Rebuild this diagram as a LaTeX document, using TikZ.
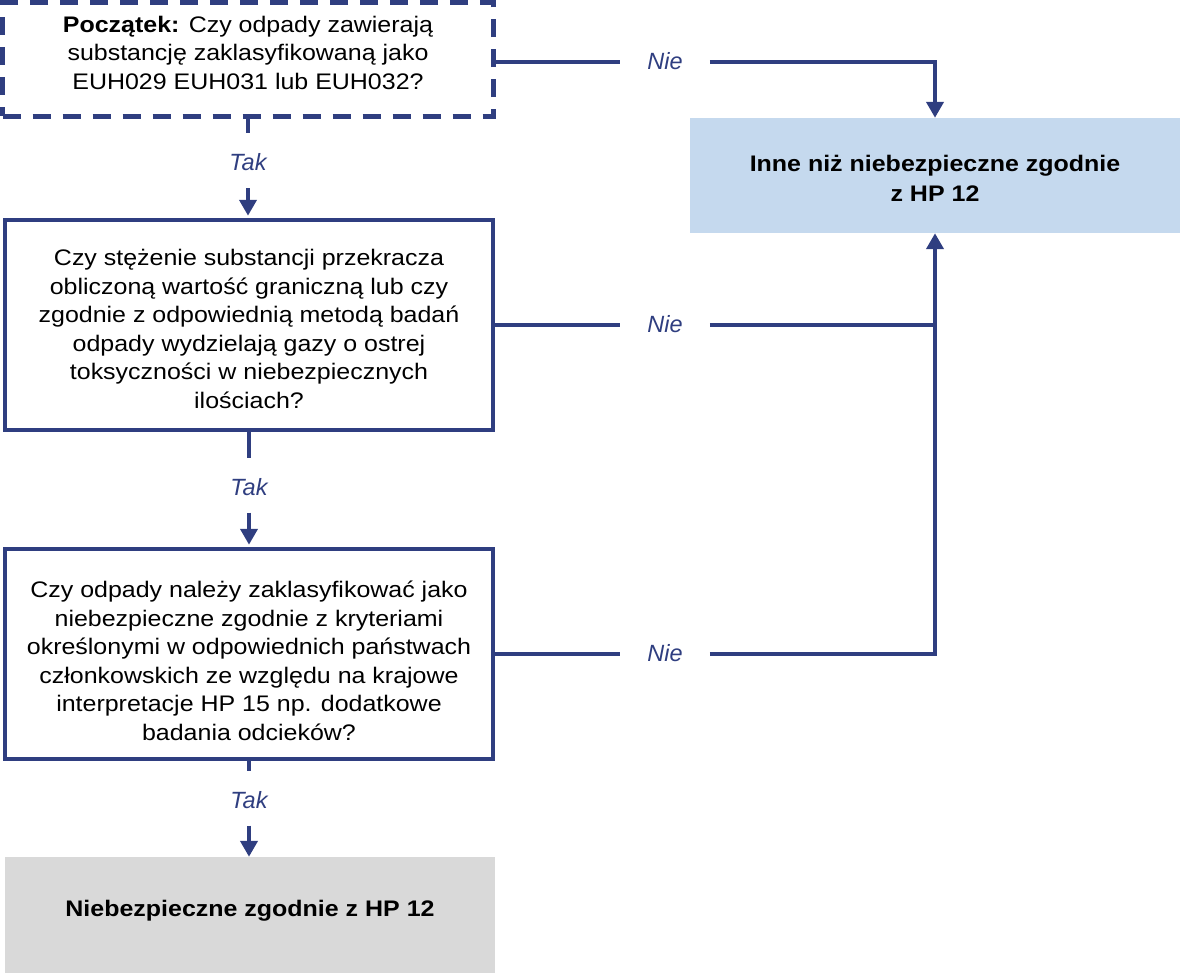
\documentclass[tikz,border=0pt]{standalone}
\usepackage{fontspec}
\setmainfont[FakeStretch=1.11]{Liberation Sans}
\newfontfamily\lblfont{Liberation Sans}
\usetikzlibrary{arrows.meta}
\definecolor{navy}{RGB}{47,62,128}
\definecolor{lightblue}{RGB}{197,217,238}
\definecolor{lightgray}{RGB}{217,217,217}
\newcommand\bxtxt[2]{\raisebox{#1}[0pt][0pt]{\begin{tabular}{@{}c@{}}#2\end{tabular}}}
\tikzset{
  qbox/.style={draw=navy, line width=4.5pt, fill=white, inner sep=0pt,
    font=\fontsize{22.5}{28.5}\selectfont},
  startbox/.style={qbox, line width=5pt, dash pattern=on 18pt off 12pt},
  endbox/.style={draw=none, inner sep=0pt,
    font=\fontsize{22.5}{30}\selectfont\bfseries},
  lbl/.style={text=navy, inner sep=0pt, text height=15pt, text depth=0pt,
    font=\lblfont\fontsize{23.5}{26}\selectfont\itshape},
  nielbl/.style={lbl, inner xsep=27pt},
  conn/.style={draw=navy, line width=4pt},
  arr/.style={conn, -{Triangle[width=17pt,length=16pt]}},
}
\begin{document}
\begin{tikzpicture}[x=1pt,y=-1pt]
\useasboundingbox (0,0) rectangle (1180,972);
% boxes
\node[startbox, minimum width=491pt, minimum height=113.5pt] (b1) at (248,59.25)
  {\bxtxt{-1pt}{\textbf{Początek:} Czy odpady zawierają\\substancję zaklasyfikowaną jako\\EUH029 EUH031 lub EUH032?}};
\node[qbox, minimum width=488pt, minimum height=210pt] (b2) at (249,325)
  {\bxtxt{-11.5pt}{Czy stężenie substancji przekracza\\obliczoną wartość graniczną lub czy\\zgodnie z odpowiednią metodą badań\\odpady wydzielają gazy o ostrej\\toksyczności w niebezpiecznych\\ilościach?}};
\node[qbox, minimum width=488pt, minimum height=210pt] (b3) at (249,654)
  {\bxtxt{-14.5pt}{Czy odpady należy zaklasyfikować jako\\niebezpieczne zgodnie z kryteriami\\określonymi w odpowiednich państwach\\członkowskich ze względu na krajowe\\interpretacje HP 15 np. dodatkowe\\badania odcieków?}};
\node[endbox, fill=lightgray, minimum width=490pt, minimum height=120pt] (b4) at (250,917)
  {\bxtxt{1.5pt}{Niebezpieczne zgodnie z HP 12}};
\node[endbox, fill=lightblue, minimum width=490pt, minimum height=115pt] (b5) at (935,175.5)
  {\bxtxt{-10.5pt}{Inne niż niebezpieczne zgodnie\\z HP 12}};
% labels
\node[lbl] (tak1) at (248,162.5) {Tak};
\node[lbl] (tak2) at (249,488) {Tak};
\node[lbl] (tak3) at (249,801) {Tak};
\node[nielbl] (nie1) at (665,62) {Nie};
\node[nielbl] (nie2) at (665,325) {Nie};
\node[nielbl] (nie3) at (665,654) {Nie};
% Tak connectors
\draw[conn, shorten >=22pt] (b1.south) -- (tak1.north);
\draw[arr, shorten <=18pt, shorten >=2pt] (tak1.south) -- (tak1.south |- b2.north);
\draw[conn, shorten >=22pt] (b2.south) -- (tak2.north);
\draw[arr, shorten <=17pt, shorten >=2pt] (tak2.south) -- (tak2.south |- b3.north);
\draw[conn, shorten >=22pt] (b3.south) -- (tak3.north);
\draw[arr, shorten <=17pt] (tak3.south) -- (tak3.south |- b4.north);
% Nie connectors
\draw[conn] (nie1.west -| b1.east) -- (nie1.west);
\draw[arr] (nie1.east) -| (b5.north);
\draw[conn] (b2.east) -- (nie2.west);
\draw[conn] (nie2.east) -- (nie2.east -| b5.south);
\draw[conn] (b3.east) -- (nie3.west);
\draw[arr] (nie3.east) -| (b5.south);
\end{tikzpicture}
\end{document}
